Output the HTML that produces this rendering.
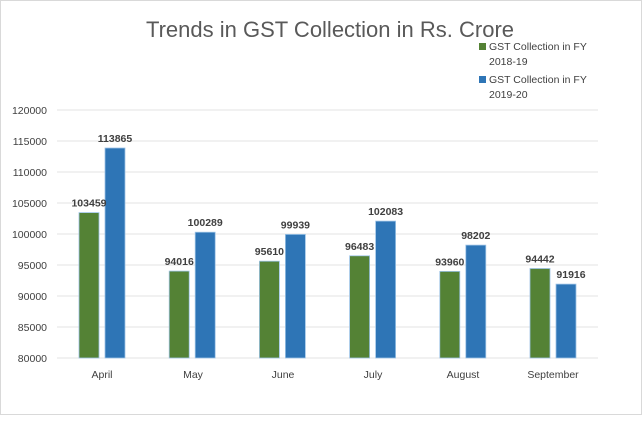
<!DOCTYPE html>
<html><head><style>
body{margin:0;width:643px;height:416px;background:#fff;overflow:hidden}
text{font-family:"Liberation Sans",sans-serif}
</style></head><body>
<svg width="643" height="416" xmlns="http://www.w3.org/2000/svg">
<rect x="0.5" y="0.5" width="641" height="414" fill="#fff" stroke="#d9d9d9"/>
<text x="330" y="37" font-size="22" fill="#595959" text-anchor="middle">Trends in GST Collection in Rs. Crore</text>
<rect x="479" y="43" width="7" height="7" fill="#548235"/>
<text x="489" y="50" font-size="10.5" fill="#404040">GST Collection in FY</text>
<text x="489" y="65" font-size="10.5" fill="#404040">2018-19</text>
<rect x="479" y="76" width="7" height="7" fill="#2e75b6"/>
<text x="489" y="83" font-size="10.5" fill="#404040">GST Collection in FY</text>
<text x="489" y="98" font-size="10.5" fill="#404040">2019-20</text>
<g stroke="#e3e3e3" stroke-width="1">
<line x1="57" x2="598" y1="110" y2="110"/><line x1="57" x2="598" y1="141" y2="141"/>
<line x1="57" x2="598" y1="172" y2="172"/><line x1="57" x2="598" y1="203" y2="203"/>
<line x1="57" x2="598" y1="234" y2="234"/><line x1="57" x2="598" y1="265" y2="265"/>
<line x1="57" x2="598" y1="296" y2="296"/><line x1="57" x2="598" y1="327" y2="327"/>
<line x1="57" x2="598" y1="358" y2="358"/>
</g>
<g font-size="10.5" fill="#404040" text-anchor="end">
<text x="47" y="114">120000</text><text x="47" y="145">115000</text><text x="47" y="176">110000</text>
<text x="47" y="207">105000</text><text x="47" y="238">100000</text><text x="47" y="269">95000</text>
<text x="47" y="300">90000</text><text x="47" y="331">85000</text><text x="47" y="362">80000</text>
</g>
<g stroke="#9dc3e6" stroke-width="0.8">
<rect x="79" y="212.6" width="20" height="145.4" fill="#548235"/>
<rect x="105" y="148" width="20" height="210" fill="#2e75b6"/>
<rect x="169.2" y="271.1" width="20" height="86.9" fill="#548235"/>
<rect x="195.2" y="232.2" width="20" height="125.8" fill="#2e75b6"/>
<rect x="259.4" y="261.2" width="20" height="96.8" fill="#548235"/>
<rect x="285.4" y="234.4" width="20" height="123.6" fill="#2e75b6"/>
<rect x="349.6" y="255.8" width="20" height="102.2" fill="#548235"/>
<rect x="375.6" y="221.1" width="20" height="136.9" fill="#2e75b6"/>
<rect x="439.8" y="271.4" width="20" height="86.6" fill="#548235"/>
<rect x="465.8" y="245.1" width="20" height="112.9" fill="#2e75b6"/>
<rect x="530" y="268.5" width="20" height="89.5" fill="#548235"/>
<rect x="556" y="284.1" width="20" height="73.9" fill="#2e75b6"/>
</g>
<g font-size="10.5" font-weight="bold" fill="#404040" text-anchor="middle">
<text x="89" y="206.6">103459</text><text x="115" y="142">113865</text>
<text x="179.2" y="265.1">94016</text><text x="205.2" y="226.2">100289</text>
<text x="269.4" y="255.2">95610</text><text x="295.4" y="228.4">99939</text>
<text x="359.6" y="249.8">96483</text><text x="385.6" y="215.1">102083</text>
<text x="449.8" y="265.4">93960</text><text x="475.8" y="239.1">98202</text>
<text x="540" y="262.5">94442</text><text x="571" y="278.1">91916</text>
</g>
<g font-size="10.5" fill="#404040" text-anchor="middle">
<text x="102" y="378">April</text><text x="193" y="378">May</text><text x="283" y="378">June</text>
<text x="373" y="378">July</text><text x="463" y="378">August</text><text x="553" y="378">September</text>
</g>
</svg>
</body></html>
